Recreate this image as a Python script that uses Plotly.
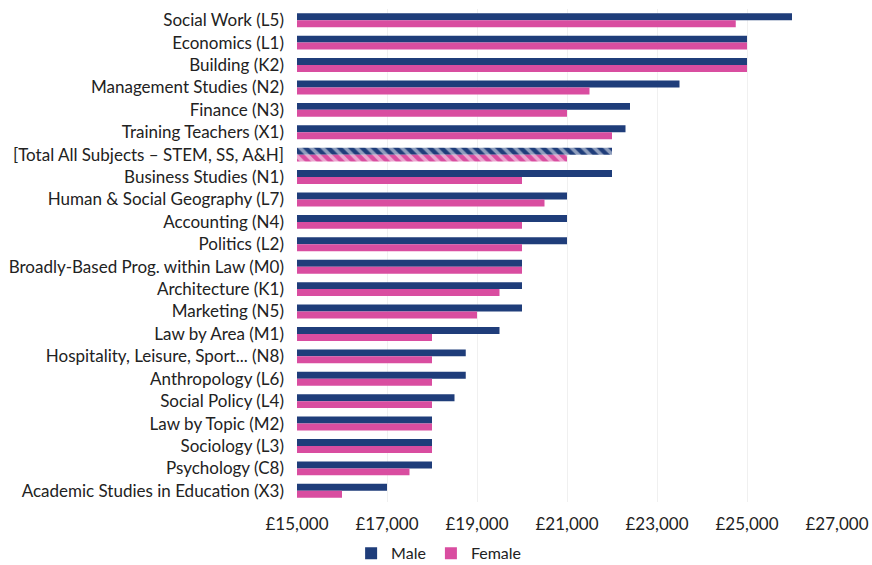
import plotly.graph_objects as go

categories = [
    "Social Work (L5)",
    "Economics (L1)",
    "Building (K2)",
    "Management Studies (N2)",
    "Finance (N3)",
    "Training Teachers (X1)",
    "[Total All Subjects – STEM, SS, A&H]",
    "Business Studies (N1)",
    "Human & Social Geography (L7)",
    "Accounting (N4)",
    "Politics (L2)",
    "Broadly-Based Prog. within Law (M0)",
    "Architecture (K1)",
    "Marketing (N5)",
    "Law by Area (M1)",
    "Hospitality, Leisure, Sport... (N8)",
    "Anthropology (L6)",
    "Social Policy (L4)",
    "Law by Topic (M2)",
    "Sociology (L3)",
    "Psychology (C8)",
    "Academic Studies in Education (X3)",
]

male = [26000, 25000, 25000, 23500, 22400, 22300, 22000, 22000, 21000, 21000, 21000,
        20000, 20000, 20000, 19500, 18750, 18750, 18500, 18000, 18000, 18000, 17000]
female = [24750, 25000, 25000, 21500, 21000, 22000, 21000, 20000, 20500, 20000, 20000,
          20000, 19500, 19000, 18000, 18000, 18000, 18000, 18000, 18000, 17500, 16000]

tick_vals = [15000, 17000, 19000, 21000, 23000, 25000, 27000]
tick_text = ["£15,000", "£17,000", "£19,000", "£21,000", "£23,000", "£25,000", "£27,000"]

NAVY = "#1f3d7a"
PINK = "#d94da0"
TOTAL = "[Total All Subjects – STEM, SS, A&H]"

shapes = ["\\" if c == TOTAL else "" for c in categories]

fig = go.Figure()
fig.add_trace(go.Bar(
    y=categories, x=male, orientation="h", name="Male",
    marker=dict(color=NAVY, line=dict(width=0),
                pattern=dict(shape=shapes, fgcolor="white", bgcolor=NAVY,
                             size=8, solidity=0.45)),
))
fig.add_trace(go.Bar(
    y=categories, x=female, orientation="h", name="Female",
    marker=dict(color=PINK, line=dict(width=0),
                pattern=dict(shape=shapes, fgcolor="white", bgcolor=PINK,
                             size=8, solidity=0.45)),
))

fig.update_layout(
    width=872, height=565,
    margin=dict(l=297, r=35, t=9, b=63, autoexpand=False),
    paper_bgcolor="white", plot_bgcolor="white",
    barmode="group", bargap=0.38, bargroupgap=0,
    font=dict(family="Lato, 'Open Sans', sans-serif", size=17, color="#222222"),
    showlegend=True,
    legend=dict(orientation="h", xref="container", yref="paper",
                x=0.503, xanchor="center", y=-0.104, yanchor="middle",
                font=dict(size=16), itemwidth=30, traceorder="normal",
                tracegroupgap=0),
    xaxis=dict(range=[15000, 27000], tickvals=tick_vals, ticktext=tick_text,
               showgrid=True, gridcolor="#f0f0f0", zeroline=False,
               showline=False, ticks="", tickfont=dict(size=17),
               ticklabelstandoff=10, automargin=False),
    yaxis=dict(autorange="reversed", showgrid=False, ticks="",
               showline=False, tickfont=dict(size=17),
               ticklabelstandoff=12, automargin=False),
)

fig.write_html("out.html", config={"displayModeBar": False},
               post_script="document.body.style.margin='0px';")
